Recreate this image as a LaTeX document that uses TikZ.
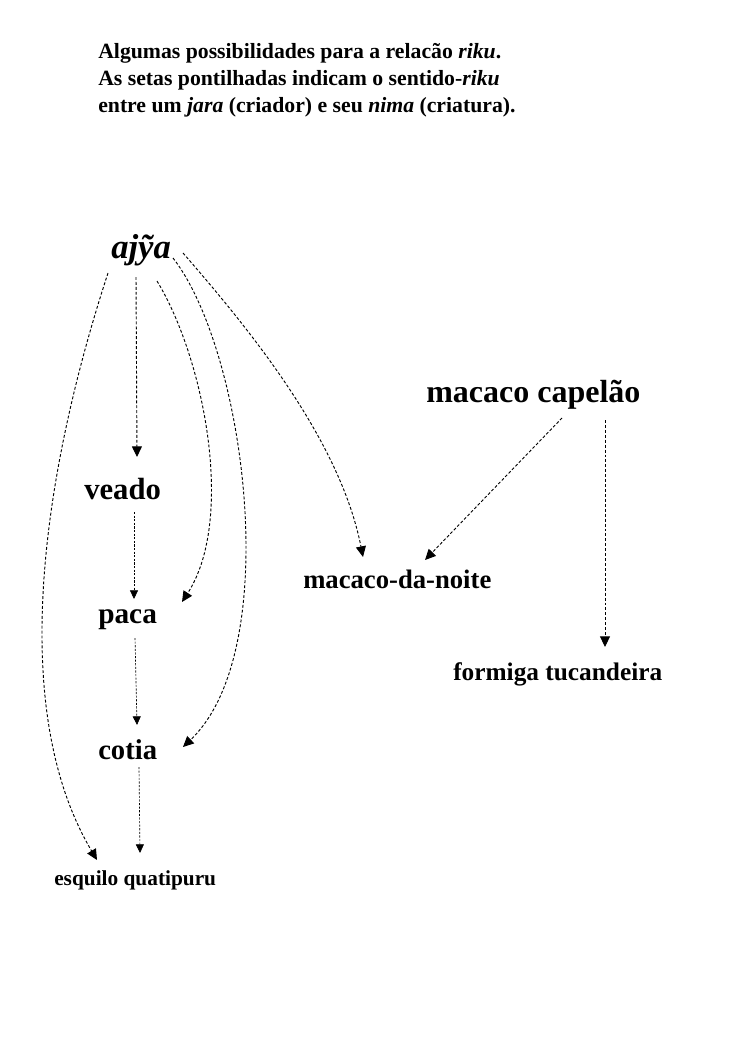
\documentclass[tikz,border=0pt]{standalone}
\usepackage{fontspec}
\setmainfont{Liberation Serif}
\usetikzlibrary{calc,arrows.meta}
\tikzset{lab/.style={anchor=base west,inner sep=0.75pt,font=\fontsize{#1}{#1}\selectfont\bfseries},
    riku/.style={dash pattern={on 2.2pt off 1.5pt},line width=0.7pt,-{Triangle[length=8pt,width=7.5pt]}},
    rikufine/.style={dash pattern={on 1.6pt off 1.1pt},line width=0.5pt,-{Triangle[length=6.5pt,width=6pt]}}}

\begin{document}
\begin{tikzpicture}[x=0.75pt,y=0.75pt,yscale=-1,xscale=1]
\useasboundingbox (0,0) rectangle (745,1053);

% Text Node
\node (title1) [lab=16.3] at (97,58) {Algumas possibilidades para a relacão \textit{riku}.};
% Text Node
\node (title2) [lab=16.3] at (97,85) {As setas pontilhadas indicam o sentido-\textit{riku}};
% Text Node
\node (title3) [lab=16.3] at (97,112) {entre um \textit{jara} (criador) e seu \textit{nima} (criatura).};

% Text Node
\node (ajya) [lab=26] at (110,258) {\itshape ajỹa};
% Text Node
\node (veado) [lab=23] at (83,499) {veado};
% Text Node
\node (paca) [lab=22] at (97,623) {paca};
% Text Node
\node (cotia) [lab=21.5] at (97,759) {cotia};
% Text Node
\node (esquilo) [lab=16] at (53,885) {esquilo quatipuru};
% Text Node
\node (capelao) [lab=24] at (425,402) {macaco capelão};
% Text Node
\node (noite) [lab=20] at (302,588) {macaco-da-noite};
% Text Node
\node (formiga) [lab=19] at (452,680) {formiga tucandeira};

%Straight Lines
\draw [riku] ($(ajya.base west)+(26,19)$) -- ($(veado.base west)+(54,-42)$);
\draw [rikufine] ($(veado.base west)+(51,13)$) -- ($(paca.base west)+(37,-24)$);
\draw [rikufine] ($(paca.base west)+(38,15)$) -- ($(cotia.base west)+(40,-34)$);
\draw [rikufine] ($(cotia.base west)+(42,8)$) -- ($(esquilo.base west)+(87,-32)$);
\draw [riku] ($(capelao.base west)+(137,16)$) -- ($(noite.base west)+(123,-28)$);
\draw [riku] ($(capelao.base west)+(180,18)$) -- ($(formiga.base west)+(153,-33)$);

%Curve Lines
\draw [riku] ($(ajya.base west)+(-2,15)$) .. controls (50,450) and (2,700) .. ($(esquilo.base west)+(44,-25)$);
\draw [riku] ($(ajya.base west)+(47,23)$) .. controls (205,360) and (235,520) .. ($(paca.base west)+(85,-21)$);
\draw [riku] ($(ajya.base west)+(63,0)$) .. controls (245,350) and (285,650) .. ($(cotia.base west)+(86,-12)$);
\draw [riku] ($(ajya.base west)+(73,-5)$) .. controls (250,330) and (340,440) .. ($(noite.base west)+(61,-31)$);

\end{tikzpicture}
\end{document}
